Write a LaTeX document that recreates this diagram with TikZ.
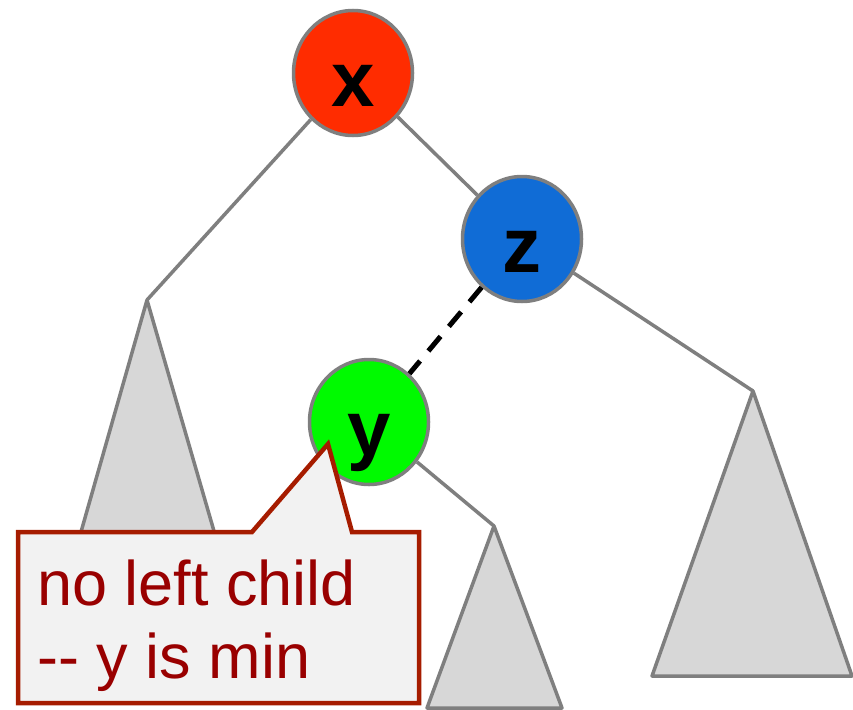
\documentclass[tikz,border=0pt]{standalone}
\usepackage{fontspec}
\setmainfont{Liberation Sans}
\usetikzlibrary{shapes.geometric}
\definecolor{edgegray}{HTML}{7F7F7F}
\definecolor{treegray}{HTML}{D7D7D7}
\definecolor{xred}{HTML}{FF2C00}
\definecolor{zblue}{HTML}{106CD6}
\definecolor{ygreen}{HTML}{00FA00}
\definecolor{calloutred}{HTML}{A61C00}
\definecolor{textred}{HTML}{990000}
\definecolor{calloutfill}{HTML}{F2F2F2}

\begin{document}
\begin{tikzpicture}[x=1pt,y=-1pt,
    keynode/.style={ellipse, draw=edgegray, line width=3.5pt, minimum width=119pt,
      minimum height=125pt, inner sep=0pt, text height=66pt, text depth=0pt,
      font=\fontsize{78}{78}\selectfont\bfseries},
    branch/.style={draw=edgegray, line width=3.5pt},
    subtree/.style={fill=treegray, draw=edgegray, line width=3.5pt, line join=round}]
    \useasboundingbox (0,0) rectangle (853,709);
    % subtree apexes
    \coordinate (ta) at (147, 300);
    \coordinate (tb) at (494, 526);
    \coordinate (tc) at (753, 391);
    % keys
    \node[keynode, fill=xred] (x) at (353, 73) {x};
    \node[keynode, fill=zblue] (z) at (522, 239) {z};
    \node[keynode, fill=ygreen] (y) at (369, 422) {y};
    % subtrees
    \filldraw[subtree] (ta) -- (40, 676) -- (256, 676) -- cycle;
    \filldraw[subtree] (tb) -- (427, 708) -- (562, 708) -- cycle;
    \filldraw[subtree] (tc) -- (652, 676) -- (852, 676) -- cycle;
    % branches
    \draw[branch] (x) -- (ta);
    \draw[branch] (x) -- (z);
    \draw[branch] (z) -- (tc);
    \draw[branch] (y) -- (tb);
    \draw[black, line width=5pt, dash pattern=on 19pt off 13pt] (z) -- (y);
    % callout
    \coordinate (tip) at (328, 444);
    \filldraw[fill=calloutfill, draw=calloutred, line width=4.5pt, line join=miter]
      (18, 532) -- (252, 532) -- (tip) -- (352, 532) -- (419, 532)
      -- (419, 703) -- (18, 703) -- cycle;
    \node[anchor=base west, text=textred, align=left, inner sep=0pt,
      font=\fontsize{63}{73}\selectfont] (note) at (37, 678)
      {no left child\\-{}- y is min};
\end{tikzpicture}
\end{document}
